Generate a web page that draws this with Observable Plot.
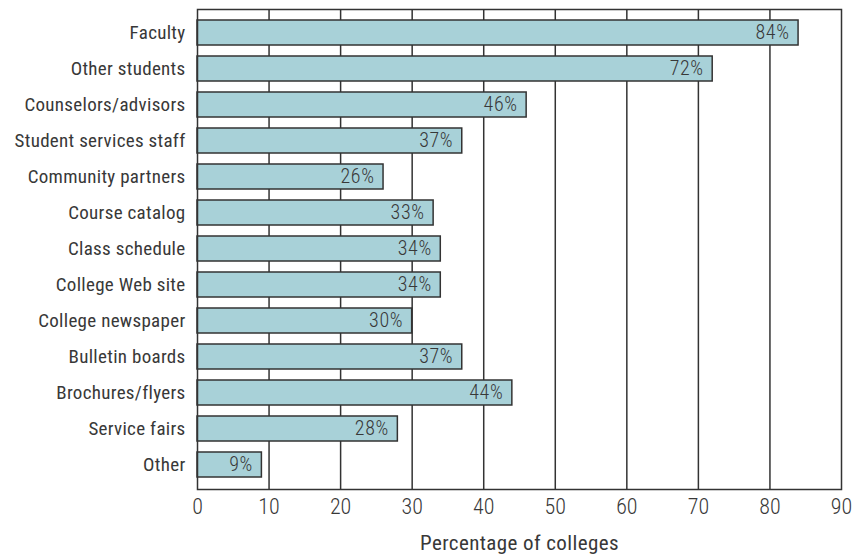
<!DOCTYPE html>
<html>
<head>
<meta charset="utf-8">
<script src="https://cdn.jsdelivr.net/npm/d3@7"></script>
<script src="https://cdn.jsdelivr.net/npm/@observablehq/plot@0.6"></script>
<style>
  html, body { margin: 0; padding: 0; background: #fff; }
  #chart svg { font-family: "Roboto Condensed", "Open Sans Condensed", "Liberation Sans Narrow", "DejaVu Sans Condensed", "Roboto", sans-serif; font-stretch: condensed; font-weight: 400; }
  #chart g[aria-label="y-axis tick label"] text { letter-spacing: 0.3px; }
  #chart g[aria-label="x-axis tick label"] text { font-weight: 300; }
  #chart g[aria-label="text"][font-size="20"] text { font-weight: 300; letter-spacing: 0.6px; }
  #chart g[aria-label="text"][font-size="21"] text { letter-spacing: 0.4px; }
</style>
</head>
<body>
<div id="chart"></div>
<script>
const categories = ["Faculty","Other students","Counselors/advisors","Student services staff","Community partners","Course catalog","Class schedule","College Web site","College newspaper","Bulletin boards","Brochures/flyers","Service fairs","Other"];
const values = [84,72,46,37,26,33,34,34,30,37,44,28,9];
const xTicks = [0,10,20,30,40,50,60,70,80,90];
const xLabel = "Percentage of colleges";

const data = categories.map((c, i) => ({category: c, value: values[i]}));
const ink = "#333";
const textInk = "#383838";

const chart = Plot.plot({
  width: 853,
  height: 556,
  marginLeft: 197,
  marginRight: 12,
  marginTop: 9,
  marginBottom: 67,
  style: {color: ink, background: "#fff"},
  x: {domain: [0, 90], ticks: xTicks, label: null},
  y: {domain: categories, padding: 0.3, label: null},
  marks: [
    Plot.gridX(xTicks.slice(1, -1), {stroke: ink, strokeOpacity: 1, strokeWidth: 1.5}),
    Plot.barX(data, {x: "value", y: "category", fill: "#a8d1d8", stroke: ink, strokeWidth: 1.5}),
    Plot.text(data, {x: "value", y: "category", text: d => d.value + "%", textAnchor: "end", dx: -9, fontSize: 20, fill: textInk}),
    Plot.frame({stroke: ink, strokeWidth: 1.5}),
    Plot.axisX(xTicks, {tickSize: 0, tickPadding: 9, fontSize: 22, fill: textInk}),
    Plot.axisY({tickSize: 0, tickPadding: 12, fontSize: 19, fill: textInk}),
    Plot.text([xLabel], {frameAnchor: "bottom", dy: 60, fontSize: 21, fill: textInk})
  ]
});
document.getElementById("chart").append(chart);
</script>
</body>
</html>
